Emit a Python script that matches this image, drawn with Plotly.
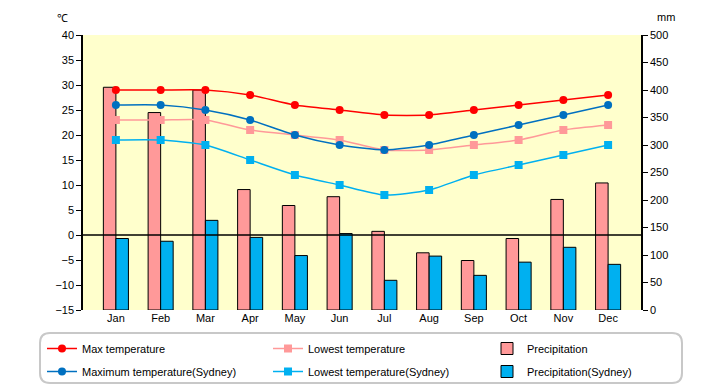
import plotly.graph_objects as go

months = ["Jan", "Feb", "Mar", "Apr", "May", "Jun", "Jul", "Aug", "Sep", "Oct", "Nov", "Dec"]
max_temp = [29, 29, 29, 28, 26, 25, 24, 24, 25, 26, 27, 28]
low_temp = [23, 23, 23, 21, 20, 19, 17, 17, 18, 19, 21, 22]
max_temp_syd = [26, 26, 25, 23, 20, 18, 17, 18, 20, 22, 24, 26]
low_temp_syd = [19, 19, 18, 15, 12, 10, 8, 9, 12, 14, 16, 18]
precip = [405, 359, 400, 219, 190, 206, 143, 104, 90, 130, 201, 231]
precip_syd = [130, 125, 163, 132, 99, 139, 54, 98, 63, 87, 114, 83]

# page body has an 8px default margin; the figure is sized to fill the rest
OFF = 8
W_FIG, H_FIG = 720 - OFF, 385 - OFF
# plot area in screen pixels (as in the reference)
L, R, T, B = 83, 641, 35, 310
PW, PH = R - L, B - T


def px(x):
    return (x - L) / PW


def py(y):
    return (B - y) / PH


FONT = "Liberation Sans"
SM = 0.6
fig = go.Figure()

fig.add_trace(go.Bar(x=months, y=precip, name="Precipitation", yaxis="y",
                     marker=dict(color="#FF9999", line=dict(color="black", width=1)),
                     legend="legend3", legendgroup="p1", legendrank=1))
fig.add_trace(go.Bar(x=months, y=precip_syd, name="Precipitation(Sydney)", yaxis="y",
                     marker=dict(color="#00B0F0", line=dict(color="black", width=1)),
                     legend="legend3", legendgroup="p2", legendrank=2))

fig.add_trace(go.Scatter(x=months, y=low_temp_syd, name="Lowest temperature(Sydney)", yaxis="y2",
                         mode="lines+markers",
                         line=dict(color="#00B0F0", width=1.5, shape="spline", smoothing=SM),
                         marker=dict(symbol="square", size=8, color="#00B0F0"),
                         legend="legend2", legendgroup="l2", legendrank=2))
fig.add_trace(go.Scatter(x=months, y=low_temp, name="Lowest temperature", yaxis="y2",
                         mode="lines+markers",
                         line=dict(color="#FF9999", width=1.5, shape="spline", smoothing=SM),
                         marker=dict(symbol="square", size=8, color="#FF9999"),
                         legend="legend2", legendgroup="l1", legendrank=1))
fig.add_trace(go.Scatter(x=months, y=max_temp_syd, name="Maximum temperature(Sydney)", yaxis="y2",
                         mode="lines+markers",
                         line=dict(color="#0070C0", width=1.5, shape="spline", smoothing=SM),
                         marker=dict(symbol="circle", size=8, color="#0070C0"),
                         legend="legend", legendgroup="m2", legendrank=2))
fig.add_trace(go.Scatter(x=months, y=max_temp, name="Max temperature", yaxis="y2",
                         mode="lines+markers",
                         line=dict(color="#FF0000", width=1.5, shape="spline", smoothing=SM),
                         marker=dict(symbol="circle", size=8, color="#FF0000"),
                         legend="legend", legendgroup="m1", legendrank=1))

legend_common = dict(orientation="v", traceorder="grouped", tracegroupgap=4,
                     font=dict(family=FONT, size=11, color="black"),
                     bgcolor="rgba(0,0,0,0)", yanchor="top", xanchor="left",
                     y=py(334), itemwidth=30)

rx, ry = 10 / PW, 10 / PH
x0, x1 = px(40), px(682)
y0, y1 = py(333), py(383)
box_path = (f"M{x0 + rx},{y0} L{x1 - rx},{y0} Q{x1},{y0} {x1},{y0 - ry} "
            f"L{x1},{y1 + ry} Q{x1},{y1} {x1 - rx},{y1} "
            f"L{x0 + rx},{y1} Q{x0},{y1} {x0},{y1 + ry} "
            f"L{x0},{y0 - ry} Q{x0},{y0} {x0 + rx},{y0} Z")

fig.update_layout(
    width=W_FIG, height=H_FIG,
    margin=dict(l=L - OFF, r=720 - R, t=T - OFF, b=385 - B, autoexpand=False),
    paper_bgcolor="white", plot_bgcolor="#FFFFCC",
    barmode="group", bargap=0.44, bargroupgap=0,
    font=dict(family=FONT, size=11, color="black"),
    xaxis=dict(type="category", showline=False, ticks="", showgrid=False, automargin=False,
               tickfont=dict(family=FONT, size=11, color="black")),
    yaxis=dict(range=[0, 500], dtick=50, side="right", showgrid=False, zeroline=False,
               automargin=False,
               showline=True, linecolor="black", linewidth=1.5, ticks="outside", ticklen=5,
               tickcolor="black", tickfont=dict(family=FONT, size=11, color="black")),
    yaxis2=dict(range=[-15, 40], dtick=5, side="left", overlaying="y", showgrid=False,
                zeroline=False, showline=True, linecolor="black", linewidth=1.5,
                automargin=False,
                ticks="outside", ticklen=5, tickcolor="black",
                tickfont=dict(family=FONT, size=11, color="black")),
    legend=dict(x=px(42), **legend_common),
    legend2=dict(x=px(268), **legend_common),
    legend3=dict(x=px(487), **legend_common),
    shapes=[
        dict(type="line", xref="paper", yref="y2", x0=0, x1=1, y0=0, y1=0,
             line=dict(color="black", width=1.5), layer="above"),
        dict(type="path", xref="paper", yref="paper", path=box_path,
             line=dict(color="#C8C8C8", width=2), fillcolor="rgba(0,0,0,0)", layer="below"),
    ],
    annotations=[
        dict(text="℃", xref="paper", yref="paper", x=px(62), y=py(18), showarrow=False,
             xanchor="center", yanchor="middle", font=dict(family=FONT, size=11, color="black")),
        dict(text="mm", xref="paper", yref="paper", x=px(666), y=py(17), showarrow=False,
             xanchor="center", yanchor="middle", font=dict(family=FONT, size=11, color="black")),
    ],
)

fig.write_html("out.html")
